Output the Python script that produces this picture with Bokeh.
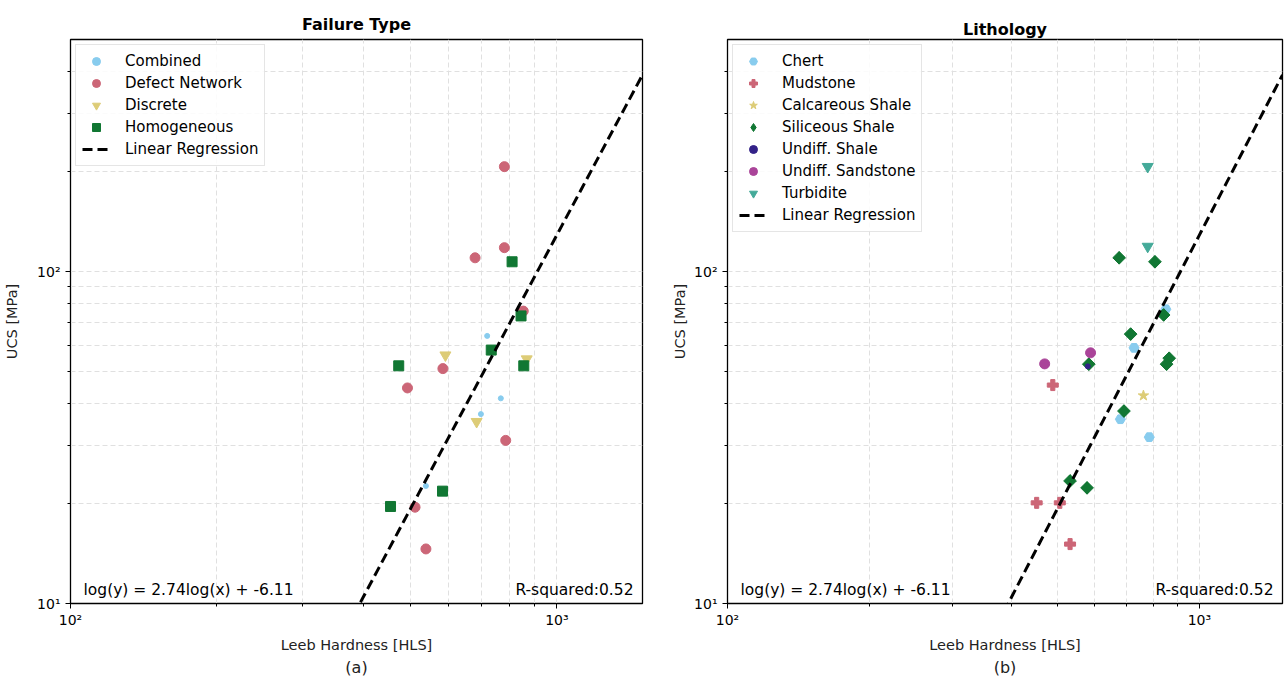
import numpy as np
from bokeh.plotting import figure
from bokeh.layouts import row
from bokeh.models import FixedTicker, Label, Title, Range1d
from bokeh.embed import file_html
from bokeh.resources import INLINE

# ---------------- data ----------------
x_range_vals = (100, 1500)
y_range_vals = (10, 500)
slope = 2.74
intercept = -6.11
r_squared = 0.52

# Failure type (left panel)
combined_x = [719, 767, 698, 538]
combined_y = [64, 41.5, 37.2, 22.6]
defect_x = [780, 780, 679, 853, 583, 493, 785, 511, 538]
defect_y = [207, 118, 110, 76, 51, 44.6, 31.0, 19.5, 14.6]
discrete_x = [590, 867, 684]
discrete_y = [56, 54.5, 35.3]
homog_x = [809, 844, 733, 855, 473, 582, 455]
homog_y = [107, 73.5, 58, 52, 52, 21.8, 19.6]

# Lithology (right panel)
chert_x = [849, 727, 680, 783]
chert_y = [77, 58.9, 35.9, 31.7]
mud_x = [489, 452, 506, 532]
mud_y = [45.5, 20.1, 20.1, 15.1]
calc_x = [761]
calc_y = [42.3]
sil_x = [676, 805, 840, 715, 583, 863, 852, 692, 532, 578]
sil_y = [110, 107, 74, 64.8, 52.6, 54.8, 52.6, 38.0, 23.4, 22.3]
ushale_x = [580]
ushale_y = [51.8]
sand_x = [588, 470]
sand_y = [56.9, 52.7]
turb_x = [777, 777]
turb_y = [207, 119]

major_x = [100, 1000]
minor_x = [200, 300, 400, 500, 600, 700, 800, 900]
major_y = [10, 100]
minor_y = [20, 30, 40, 50, 60, 70, 80, 90, 200, 300, 400]
tick_labels = {10: "10\u00b9", 100: "10\u00b2", 1000: "10\u00b3"}

FONT = "DejaVu Sans"
GRID = "#e0e0e0"


def make_fig(title, w, h, bl, br, bt, bb, ylab_standoff, title_standoff):
    p = figure(x_axis_type="log", y_axis_type="log",
               x_range=Range1d(*x_range_vals), y_range=Range1d(*y_range_vals),
               width=w, height=h,
               min_border_left=bl, min_border_right=br,
               min_border_top=bt, min_border_bottom=bb,
               output_backend="svg", toolbar_location=None, title=title)
    p.background_fill_color = "white"
    p.border_fill_color = "white"
    p.outline_line_color = "black"
    p.outline_line_width = 1.3
    p.title.align = "center"
    p.title.text_font = FONT
    p.title.text_font_size = "16px"
    p.title.text_font_style = "bold"
    p.title.text_color = "black"
    p.title.standoff = title_standoff
    p.title.text_line_height = 1.0
    p.xaxis.ticker = FixedTicker(ticks=major_x, minor_ticks=minor_x)
    p.yaxis.ticker = FixedTicker(ticks=major_y, minor_ticks=minor_y)
    for ax in (p.xaxis, p.yaxis):
        ax.major_label_overrides = tick_labels
        ax.major_label_text_font = FONT
        ax.major_label_text_font_size = "14px"
        ax.major_label_text_color = "black"
        ax.axis_label_text_font = FONT
        ax.axis_label_text_font_size = "14.5px"
        ax.axis_label_text_font_style = "normal"
        ax.axis_label_text_color = "#222222"
        ax.axis_line_color = "black"
        ax.major_tick_line_color = "black"
        ax.minor_tick_line_color = "black"
        ax.major_tick_in = 0
        ax.minor_tick_in = 0
        ax.major_tick_out = 5
        ax.minor_tick_out = 3
    p.xaxis.major_label_standoff = 3
    p.xaxis.axis_label = "Leeb Hardness [HLS]"
    p.yaxis.axis_label = "UCS [MPa]"
    p.xaxis.axis_label_standoff = 6
    p.yaxis.axis_label_standoff = ylab_standoff
    for g in (p.xgrid, p.ygrid):
        g.grid_line_color = GRID
        g.grid_line_dash = "5 3"
        g.grid_line_width = 1
        g.minor_grid_line_color = GRID
        g.minor_grid_line_dash = "5 3"
        g.minor_grid_line_width = 1
    return p


def add_regression(p):
    xs = np.logspace(np.log10(x_range_vals[0]), np.log10(x_range_vals[1]), 200)
    ys = 10 ** (slope * np.log10(xs) + intercept)
    p.line(xs, ys, line_color="black", line_width=3, line_dash="10 5",
           legend_label="Linear Regression")
    eq = Label(x=x_range_vals[0], y=y_range_vals[0], x_offset=13, y_offset=5,
               text=f"log(y) = {slope}log(x) + {intercept}",
               text_font=FONT, text_font_size="15.5px", text_color="black",
               text_baseline="bottom", text_align="left")
    rs = Label(x=x_range_vals[1], y=y_range_vals[0], x_offset=-9, y_offset=5,
               text=f"R-squared:{r_squared}",
               text_font=FONT, text_font_size="15.5px", text_color="black",
               text_baseline="bottom", text_align="right")
    p.add_layout(eq)
    p.add_layout(rs)


def style_legend(p):
    lg = p.legend[0]
    lg.location = "top_left"
    lg.margin = 5
    lg.padding = 6
    lg.spacing = 2
    lg.label_height = 20
    lg.glyph_height = 20
    lg.glyph_width = 28
    lg.label_standoff = 15
    lg.label_text_font = FONT
    lg.label_text_font_size = "15px"
    lg.label_text_color = "black"
    lg.border_line_color = "#cccccc"
    lg.border_line_width = 1
    lg.background_fill_alpha = 0.85


def add_caption(p, text):
    p.add_layout(Title(text=text, align="center", text_font=FONT,
                       text_font_size="16px", text_font_style="normal",
                       text_color="#222222", standoff=0), "below")


# ---------------- left panel ----------------
p1 = make_fig("Failure Type", 650, 680, 70, 8, 39, 76, 14, 12)
p1.scatter(combined_x, combined_y, marker="circle", size=5, color="#88CCEE",
           legend_label="Combined")
p1.scatter(defect_x, defect_y, marker="circle", size=10, color="#CC6677",
           legend_label="Defect Network")
p1.scatter(discrete_x, discrete_y, marker="inverted_triangle", size=11, color="#DDCC77",
           legend_label="Discrete")
p1.scatter(homog_x, homog_y, marker="square", size=10, color="#117733",
           legend_label="Homogeneous")
add_regression(p1)
style_legend(p1)
add_caption(p1, "(a)")

# ---------------- right panel ----------------
p2 = make_fig("Lithology", 636, 680, 77, 4, 39, 77, 3, 2)
p2.scatter(chert_x, chert_y, marker="hex", size=10, color="#88CCEE",
           legend_label="Chert")
p2.scatter(mud_x, mud_y, marker="plus", size=11, color="#CC6677",
           legend_label="Mudstone")
p2.scatter(calc_x, calc_y, marker="star", size=11, color="#DDCC77",
           legend_label="Calcareous Shale")
# diamond swatch for the legend (hidden beneath the rotated-square markers)
p2.scatter(sil_x, sil_y, marker="diamond", size=12, color="#117733",
           legend_label="Siliceous Shale")
p2.scatter(sil_x, sil_y, marker="square", angle=np.pi / 4, size=9, color="#117733")
p2.scatter(ushale_x, ushale_y, marker="circle", size=5, color="#332288",
           legend_label="Undiff. Shale")
p2.scatter(sand_x, sand_y, marker="circle", size=10, color="#AA4499",
           legend_label="Undiff. Sandstone")
p2.scatter(turb_x, turb_y, marker="inverted_triangle", size=11, color="#44AA99",
           legend_label="Turbidite")
add_regression(p2)
style_legend(p2)
add_caption(p2, "(b)")

layout = row(p1, p2)
open("out.html", "w").write(file_html(layout, INLINE))
